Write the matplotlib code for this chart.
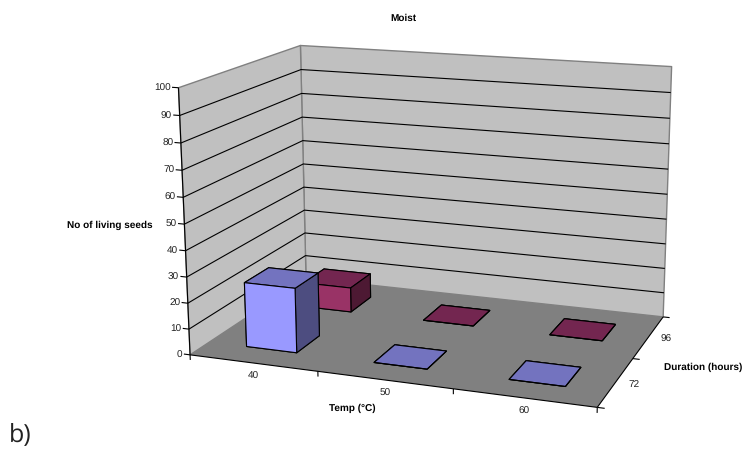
import numpy as np
import matplotlib
matplotlib.use('Agg')
import matplotlib.pyplot as plt
from mpl_toolkits.mplot3d.art3d import Poly3DCollection, Line3DCollection

plt.rcParams['font.family'] = ['Liberation Sans', 'DejaVu Sans']
plt.rcParams['text.hinting'] = 'none'

temps = ['40', '50', '60']
durations = ['72', '96']
seeds_72 = [25, 0, 0]
seeds_96 = [10, 0, 0]
z_ticks = [0, 10, 20, 30, 40, 50, 60, 70, 80, 90, 100]

W, H = 747, 450
nx, ny, zmax = len(temps), len(durations), z_ticks[-1]

# box corners in chart units and where they land on the image, used to fit the camera
box_pts = [(0, 0, 0), (3, 0, 0), (3, 2, 0), (0, 2, 0), (0, 0, 100), (0, 2, 100), (3, 2, 100), (0, 0, 50), (0, 2, 50)]
img_pts = [(190, 355), (597, 407.5), (663.3, 316.7), (306, 278), (178.7, 87.3), (300, 45.7), (671.7, 66.7), (184.5, 224.3), (303.5, 164)]


def fit_camera(world, image):
    a = []
    b = []
    for (x, y, z), (u, v) in zip(world, image):
        a.append([x, y, z, 1, 0, 0, 0, 0, -u * x, -u * y, -u * z])
        b.append(u)
        a.append([0, 0, 0, 0, x, y, z, 1, -v * x, -v * y, -v * z])
        b.append(v)
    p = np.linalg.lstsq(np.array(a, float), np.array(b, float), rcond=None)[0]
    return np.append(p, 1).reshape(3, 4)


fig = plt.figure(figsize=(W / 100, H / 100), dpi=100)
ax = fig.add_axes([0, 0, 1, 1], projection='3d')
ax.apply_aspect = lambda position=None: None
ax.set_axis_off()
ax.computed_zorder = False
ax.patch.set_alpha(0)
for a in (ax.xaxis, ax.yaxis, ax.zaxis):
    a.set_ticks([])
    a.label.set_visible(False)
    a.offsetText.set_visible(False)
    a.set_visible(False)
for t in (ax.title, ax._left_title, ax._right_title):
    t.set_visible(False)

P = fit_camera(box_pts, img_pts)
x0, x1 = ax.viewLim.intervalx
y0, y1 = ax.viewLim.intervaly
# pixels -> the axes' 2d limits, plus a depth row so far faces are drawn first
M = np.array([
    (x1 - x0) / W * P[0] + x0 * P[2],
    (y0 - y1) / H * P[1] + y1 * P[2],
    [-0.3, 1, -0.005, 5],
    P[2],
])
ax.get_proj = lambda: M

wall_c = '#C0C0C0'
floor_c = '#808080'
edge_c = '#808080'
lw = 0.8
font = 7.2


def lines(segs, zorder):
    ax.add_collection3d(Line3DCollection(segs, colors='black', linewidths=lw, zorder=zorder), autolim=False)


left_wall = [(0, 0, 0), (0, ny, 0), (0, ny, zmax), (0, 0, zmax)]
back_wall = [(0, ny, 0), (nx, ny, 0), (nx, ny, zmax), (0, ny, zmax)]
floor = [(0, 0, 0), (nx, 0, 0), (nx, ny, 0), (0, ny, 0)]
ax.add_collection3d(Poly3DCollection([left_wall, back_wall], facecolors=wall_c, edgecolors=edge_c, linewidths=1.0, zorder=1), autolim=False)
ax.add_collection3d(Poly3DCollection([floor], facecolors=floor_c, edgecolors='none', zorder=1.5), autolim=False)

lines([[(0, 0, z), (0, ny, z), (nx, ny, z)] for z in z_ticks[1:-1]], 2)
# axis lines
lines([[(0, 0, 0), (0, 0, zmax)], [(0, 0, 0), (nx, 0, 0)], [(nx, 0, 0), (nx, ny, 0)]], 2.5)

# ticks and labels
lines([[(-0.05, 0, z), (0, 0, z)] for z in z_ticks], 2.5)
lines([[(i, 0, 0), (i, 0, -2)] for i in range(nx + 1)], 2.5)
lines([[(nx, j, 0), (nx + 0.05, j, 0)] for j in range(ny + 1)], 2.5)
for z in z_ticks:
    ax.text(-0.06, 0, z, str(z), ha='right', va='center_baseline', fontsize=font, color='#222222')
for i, t in enumerate(temps):
    ax.text(i + 0.5, 0, -5, t, ha='center', va='center', fontsize=font, color='#222222')
for j, d in enumerate(durations):
    ax.text(nx + 0.13, j + 0.5, 0, d, ha='center', va='center', fontsize=font, color='#222222')

bar_w = 0.4
gap = (1 - bar_w) / 2
# face order in bar3d: bottom, top, front, back, left, right
blue = ['#7373BF', '#7373BF', '#9999FF', '#9999FF', '#4D4D80', '#4D4D80']
purple = ['#732650', '#732650', '#993366', '#993366', '#4D1933', '#4D1933']

for j, (vals, cols) in reversed(list(enumerate([(seeds_72, blue), (seeds_96, purple)]))):
    for i, v in enumerate(vals):
        ax.bar3d(i + gap, j + gap, 0, bar_w, bar_w, v, color=cols, edgecolor='black', linewidth=lw, shade=False, zorder=3 + (1 - j) + i * 0.1)

fig.text(403 / W, 1 - 18 / H, 'Moist', ha='center', va='center', fontsize=font, fontweight='bold')
fig.text(153 / W, 1 - 225 / H, 'No of living seeds', ha='right', va='center', fontsize=font, fontweight='bold')
fig.text(352 / W, 1 - 408 / H, 'Temp (°C)', ha='center', va='center', fontsize=font, fontweight='bold')
fig.text(703 / W, 1 - 367.5 / H, 'Duration (hours)', ha='center', va='center', fontsize=font, fontweight='bold')
fig.text(9 / W, 1 - 441 / H, 'b)', ha='left', va='baseline', fontsize=18, family='Open Sans', color='#222222')

fig.savefig('out.png', dpi=100)
